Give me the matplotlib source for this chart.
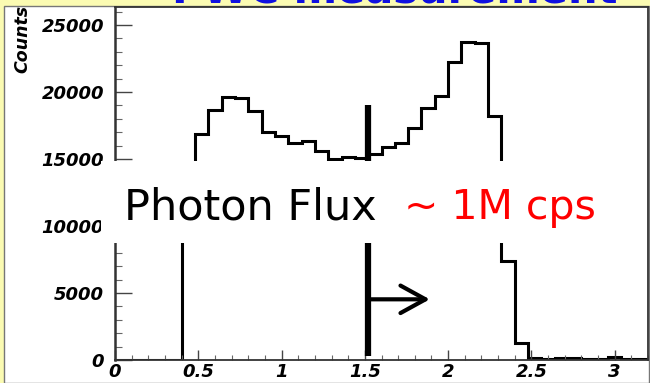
import numpy as np
import matplotlib
matplotlib.use("Agg")
import matplotlib.pyplot as plt
from matplotlib.patches import Rectangle
from matplotlib.ticker import MultipleLocator

# ---- data ----
n_bins = 40
x_range = (0.0, 3.2)
counts = [0, 0, 0, 0, 0, 12000, 16900, 18650, 19600, 19550,
          18580, 16990, 16740, 16170, 16340, 15600, 14980, 15170, 15050, 15370,
          15920, 16220, 17290, 18830, 19720, 22240, 23750, 23630, 18210, 7390,
          1290, 150, 100, 180, 120, 60, 80, 200, 60, 40]
x_ticks = [0, 0.5, 1, 1.5, 2, 2.5, 3]
x_tick_labels = ["0", "0.5", "1", "1.5", "2", "2.5", "3"]
y_ticks = [0, 5000, 10000, 15000, 20000, 25000]
y_tick_labels = ["0", "5000", "10000", "15000", "20000", "25000"]
y_label = "Counts"
title_text = "PWC measurement"
flux_text = "Photon Flux"
rate_text = "~ 1M cps"
cut_x = 1.52
cut_top = 19030
cut_bottom = 300
arrow_end_x = 1.89
arrow_y = 4530

W, H = 650, 383
fig = plt.figure(figsize=(W / 100, H / 100), dpi=100)
fig.patch.set_facecolor("#fbfbb2")

def fx(px):
    return px / W

def fy(py):
    return 1 - py / H

# blue (cut off) slide title: only its bottom few pixels show above the panel
title_ax = fig.add_axes([0, fy(5), 1, 5 / H])
title_ax.set_axis_off()
title_ax.patch.set_visible(False)
title_ax.text(fx(395), 0.4, title_text, color="#1010e0", fontsize=30,
              fontweight="bold", family="DejaVu Sans", ha="center",
              va="baseline", transform=title_ax.transAxes, clip_on=True)

# white panel
panel = Rectangle((fx(4), 0), fx(645), fy(5.5), transform=fig.transFigure,
                  facecolor="white", edgecolor="#777777", lw=1.0, zorder=0.8)
fig.add_artist(panel)

ax = fig.add_axes([fx(115), 1 - 360 / H, fx(648 - 115), (360 - 7) / H])
ax.set_zorder(1)
ax.set_facecolor("white")

edges = np.linspace(x_range[0], x_range[1], n_bins + 1)
ax.stairs(counts, edges, baseline=0, color="black", lw=2.2, fill=False)

ax.set_xlim(*x_range)
ax.set_ylim(0, 26350)

tick_font = dict(family="DejaVu Sans", fontweight="bold", fontstyle="oblique",
                 fontsize=13)
ax.set_xticks(x_ticks)
ax.set_xticklabels(x_tick_labels, **tick_font)
ax.set_yticks(y_ticks)
ax.set_yticklabels(y_tick_labels, **tick_font)
ax.xaxis.set_minor_locator(MultipleLocator(0.1))
ax.yaxis.set_minor_locator(MultipleLocator(1000))
ax.tick_params(axis="x", which="major", direction="in", length=7, width=1.0,
               pad=2, color="#444444")
ax.tick_params(axis="x", which="minor", direction="in", length=3.5, width=0.8,
               color="#666666")
ax.tick_params(axis="y", which="major", direction="in", length=12, width=1.0,
               pad=8, color="#444444")
ax.tick_params(axis="y", which="minor", direction="in", length=5, width=0.8,
               color="#666666")
ax.tick_params(top=False, right=False)
for s in ax.spines.values():
    s.set_color("#333333")
    s.set_linewidth(1.3)
ax.spines["left"].set_linewidth(1.8)

ax.set_ylabel(y_label, family="DejaVu Sans", fontweight="bold",
              fontstyle="oblique", fontsize=12.5, rotation=90)
ax.yaxis.set_label_coords((22 - 115) / 533, 1.006)
ax.yaxis.label.set_ha("right")
ax.yaxis.label.set_va("center")

# threshold marker and arrow
ax.plot([cut_x, cut_x], [cut_bottom, cut_top], color="black", lw=4.5,
        solid_capstyle="butt")
ax.annotate("", xy=(arrow_end_x, arrow_y), xytext=(cut_x, arrow_y),
            arrowprops=dict(arrowstyle="->,head_length=1.0,head_width=0.55",
                            lw=3, color="black", mutation_scale=18,
                            shrinkA=0, shrinkB=0))

# white box with text
box = Rectangle((fx(101), fy(243)), fx(647 - 101), (243 - 161) / H,
                transform=fig.transFigure, facecolor="white", edgecolor="none",
                zorder=5)
fig.add_artist(box)
fig.text(fx(124), fy(219), flux_text, color="black", fontsize=31,
         family="DejaVu Sans", ha="left", va="baseline", zorder=6)
fig.text(fx(404), fy(219), rate_text, color="#ff0000", fontsize=29.5,
         family="DejaVu Sans", ha="left", va="baseline", zorder=6)

fig.savefig("out.png", dpi=100, facecolor=fig.get_facecolor())
